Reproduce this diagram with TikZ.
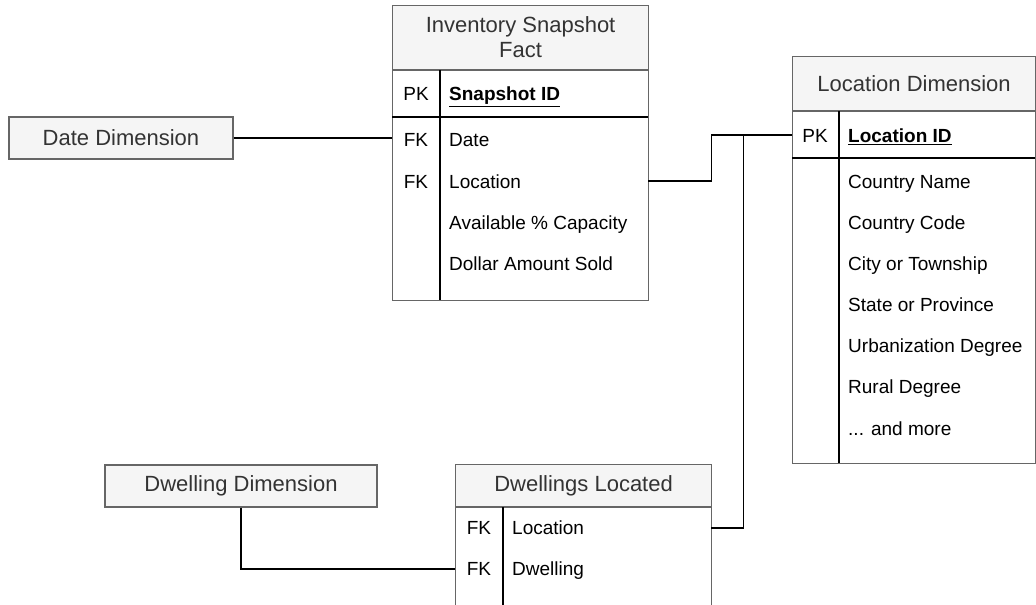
\documentclass[tikz,border=0pt]{standalone}
\usepackage{fontspec}
\setmainfont{Liberation Sans}
\definecolor{hdrfill}{HTML}{F5F5F5}
\definecolor{edgegray}{HTML}{666666}
\definecolor{hdrtext}{HTML}{333333}

\tikzset{
  hdr/.style={draw=edgegray, line width=1.2pt, fill=hdrfill, text=hdrtext,
    font=\fontsize{22}{25}\selectfont, inner sep=0pt, align=center},
  tablebody/.style={draw=edgegray, line width=1.2pt, fill=white, inner sep=0pt, anchor=north west},
  innerrule/.style={line width=1.4pt, black},
  rowslot/.style={inner sep=0pt, minimum height=41pt},
  keytxt/.style={font=\fontsize{19}{22}\selectfont, inner sep=0pt, text height=13.6pt, text depth=0pt},
  fieldtxt/.style={keytxt, anchor=west},
  link/.style={line width=1.4pt, black},
}

\begin{document}
\begin{tikzpicture}[x=1pt,y=-1pt]
\path[use as bounding box] (0,0) rectangle (1036,605);
\clip (0,0) rectangle (1036,605);

% ---------- Inventory Snapshot Fact ----------
\node[tablebody, minimum width=256pt, minimum height=230pt] (invbody) at (392,70) {};
\node[hdr, minimum width=256pt, minimum height=64pt, anchor=south west] (inv) at (392,70) {Inventory Snapshot\\Fact};
\draw[innerrule] (392,117) -- (648,117);
\draw[innerrule] (440,70) -- (440,300);
\node[rowslot, minimum width=256pt] (invpk)   at (520,94)  {};
\node[rowslot, minimum width=256pt] (invdate) at (520,138) {};
\node[rowslot, minimum width=256pt] (invloc)  at (520,181) {};
\node[keytxt] at (416,94)  {PK};
\node[keytxt] at (416,140) {FK};
\node[keytxt] at (416,182) {FK};
\node[fieldtxt] at (449,94)  {\underline{\textbf{Snapshot ID}}};
\node[fieldtxt] at (449,140) {Date};
\node[fieldtxt] at (449,182) {Location};
\node[fieldtxt] at (449,223) {Available \% Capacity};
\node[fieldtxt] at (449,264) {Dollar Amount Sold};

% ---------- Location Dimension ----------
\node[tablebody, minimum width=243pt, minimum height=352pt] (locbody) at (792,111) {};
\node[hdr, minimum width=243pt, minimum height=54pt, anchor=south west] (loc) at (792,111) {Location Dimension};
\draw[innerrule] (792,158) -- (1035,158);
\draw[innerrule] (839,111) -- (839,463);
\node[rowslot, minimum width=243pt] (locpk) at (913.5,135) {};
\node[keytxt] at (815,136) {PK};
\node[fieldtxt] at (848,136) {\underline{\textbf{Location ID}}};
\node[fieldtxt] at (848,182) {Country Name};
\node[fieldtxt] at (848,223) {Country Code};
\node[fieldtxt] at (848,264) {City or Township};
\node[fieldtxt] at (848,305) {State or Province};
\node[fieldtxt] at (848,346) {Urbanization Degree};
\node[fieldtxt] at (848,387) {Rural Degree};
\node[fieldtxt] at (848,429) {... and more};

% ---------- Dwellings Located ----------
\node[tablebody, minimum width=256pt, minimum height=140pt] (dwbody) at (455,507) {};
\node[hdr, minimum width=256pt, minimum height=42pt, anchor=south west] (dw) at (455,507) {Dwellings Located};
\draw[innerrule] (503,507) -- (503,647);
\node[rowslot, minimum width=256pt] (dwloc)  at (583,528) {};
\node[rowslot, minimum width=256pt] (dwdwel) at (583,569) {};
\node[keytxt] at (479,528) {FK};
\node[keytxt] at (479,569) {FK};
\node[fieldtxt] at (512,528) {Location};
\node[fieldtxt] at (512,569) {Dwelling};

% ---------- Plain dimension boxes ----------
\node[hdr, minimum width=224pt, minimum height=42pt] (datedim) at (121,138) {Date Dimension};
\node[hdr, minimum width=272pt, minimum height=42pt] (dwelldim) at (241,486) {Dwelling Dimension};

% ---------- Relationships ----------
\draw[link] (datedim.east) -- (invdate.west);
\draw[link] (invloc.east) -- ++(63,0) |- (locpk.west);
\draw[link] (dwloc.east) -- ++(32,0) |- (locpk.west);
\draw[link] (dwelldim.south) |- (dwdwel.west);
\end{tikzpicture}
\end{document}
